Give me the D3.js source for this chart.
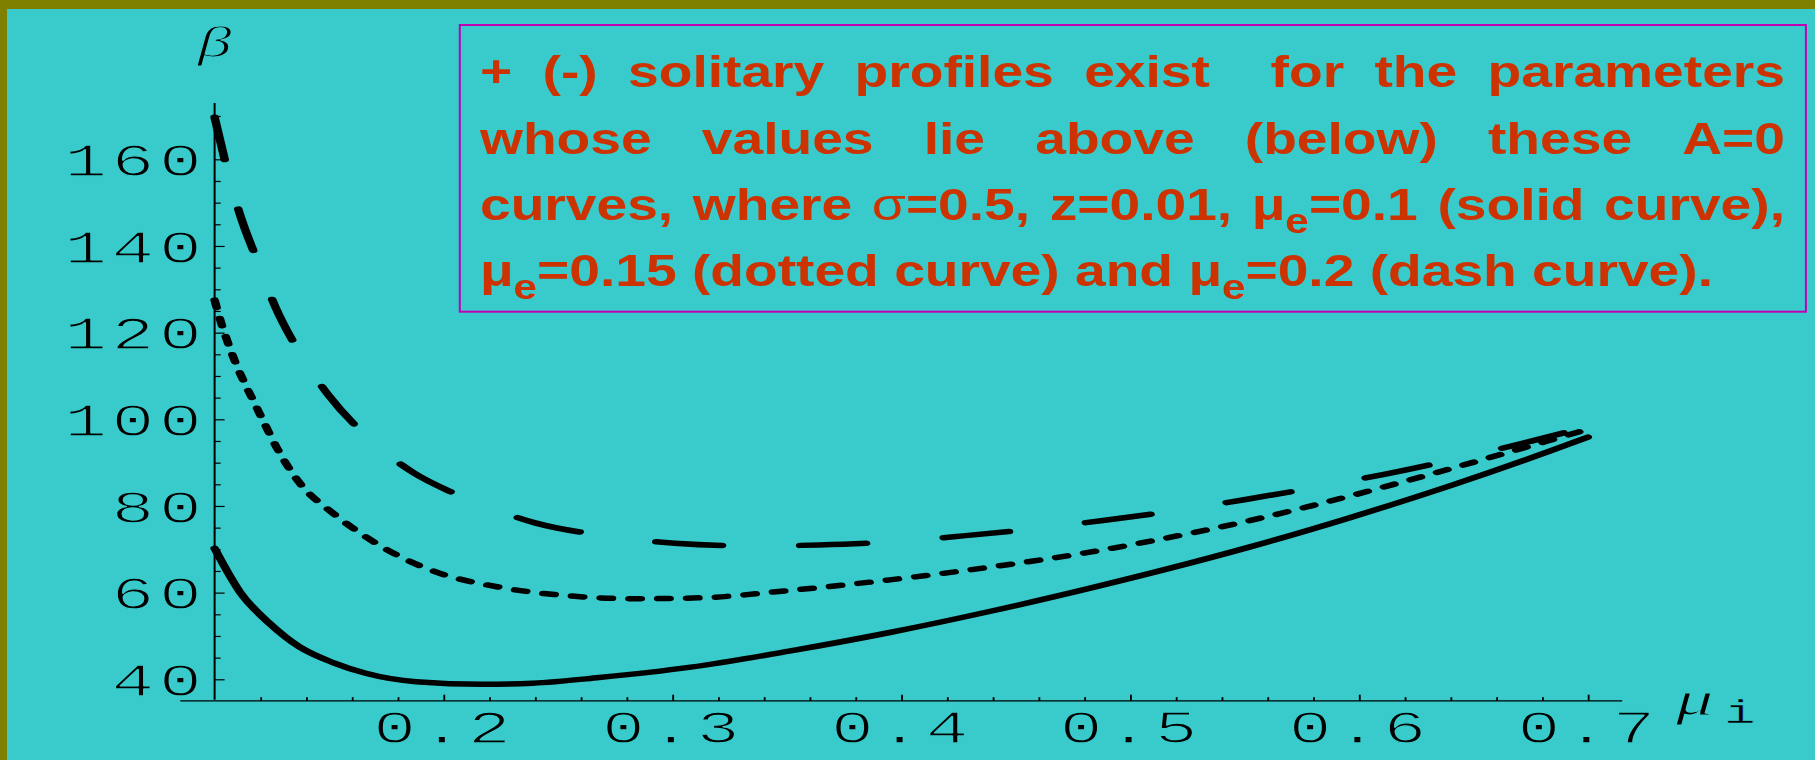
<!DOCTYPE html>
<html>
<head>
<meta charset="utf-8">
<script src="https://cdn.jsdelivr.net/npm/d3@7"></script>
<style>
  html, body { margin: 0; padding: 0; background: #39cbcb; }
  svg { display: block; }
</style>
</head>
<body>
<svg id="chart" width="1815" height="760"></svg>
<script>
// ---- data: A=0 curves, beta against mu_i ----
// mu_e = 0.1 (solid)
const muSolid   = [0.100, 0.111, 0.124, 0.137, 0.152, 0.166, 0.188, 0.217, 0.239, 0.268, 0.308, 0.351, 0.395, 0.439, 0.483, 0.526, 0.552, 0.596, 0.640, 0.683, 0.700];
const betaSolid = [70.2, 60.2, 52.9, 47.5, 43.8, 41.4, 39.45, 38.85, 39.1, 40.4, 42.8, 46.5, 50.8, 55.7, 61.1, 66.8, 70.5, 77.3, 84.7, 92.6, 95.9];
// mu_e = 0.15 (dotted)
const muDotted   = [0.100, 0.103, 0.106, 0.109, 0.1125, 0.117, 0.122, 0.127, 0.137, 0.152, 0.166, 0.181, 0.196, 0.225, 0.254, 0.283, 0.312, 0.351, 0.395, 0.439, 0.483, 0.509, 0.552, 0.596, 0.640, 0.683, 0.700];
const betaDotted = [127.5, 122.0, 117.4, 113.2, 109.0, 104.2, 98.8, 93.6, 85.4, 78.2, 72.9, 68.3, 64.9, 61.2, 59.3, 58.6, 58.8, 60.5, 62.95, 65.9, 69.4, 71.9, 76.6, 82.3, 88.6, 95.1, 97.7];
// mu_e = 0.2 (dash)
const muDashed   = [0.100, 0.105, 0.1108, 0.1184, 0.1264, 0.1369, 0.1497, 0.1664, 0.1868, 0.2014, 0.2128, 0.240, 0.271, 0.301, 0.334, 0.364, 0.397, 0.427, 0.459, 0.489, 0.521, 0.5505, 0.582, 0.611, 0.642, 0.671, 0.700];
const betaDashed = [169.7, 158.7, 147.7, 136.9, 126.1, 115.6, 105.6, 96.1, 87.7, 83.7, 81.2, 76.1, 73.1, 71.4, 70.8, 71.0, 71.75, 73.1, 74.8, 76.7, 79.0, 81.5, 84.4, 87.3, 90.8, 94.4, 98.3];

// ---- ticks ----
const xTickValues = [0.2, 0.3, 0.4, 0.5, 0.6, 0.7];
const xTickLabels = ["0.2", "0.3", "0.4", "0.5", "0.6", "0.7"];
const yTickValues = [40, 60, 80, 100, 120, 140, 160];
const yTickLabels = ["40", "60", "80", "100", "120", "140", "160"];

// ---- note text ----
const noteLines = [
  "+ (-) solitary profiles exist  for the parameters",
  "whose values lie above (below) these A=0",
  "curves, where σ=0.5, z=0.01, μ_e=0.1 (solid curve),",
  "μ_e=0.15 (dotted curve) and μ_e=0.2 (dash curve)."
];

// ---- layout ----
const W = 1815, H = 760;
const BG = "#39cbcb";
const S = 1.55;                 // horizontal stretch of the plot panel
const MONO = "'Liberation Mono', 'DejaVu Sans Mono', monospace";
const SERIF = "'Liberation Serif', 'DejaVu Serif', serif";
const SANS = "'Liberation Sans', Arial, sans-serif";

const svg = d3.select("#chart");
svg.append("rect").attr("width", W).attr("height", H).attr("fill", BG);
svg.append("rect").attr("x", 0).attr("y", 0).attr("width", W).attr("height", 9).attr("fill", "#808000");
svg.append("rect").attr("x", 0).attr("y", 0).attr("width", 7).attr("height", H).attr("fill", "#808000");

const plot = svg.append("g").attr("transform", `scale(${S},1)`);

const x = d3.scaleLinear().domain([0.2, 0.7]).range([443.5 / S, 1587.9 / S]);
const y = d3.scaleLinear().domain([40, 160]).range([679.3, 159.3]);
const x0 = x(0.1), y0 = y(35);

// thin lettering: glyph edges trimmed with a background-coloured stroke
function thin(sel, trim) {
  sel.attr("fill", "#000").attr("stroke", BG)
    .attr("stroke-width", trim).attr("stroke-linejoin", "round");
}
function monoText(sel, size) {
  sel.attr("font-family", MONO).attr("font-size", size)
    .attr("letter-spacing", 3).call(thin, 1.4);
}
function tickLines(g) {
  g.select(".domain").remove();
  g.selectAll("line").attr("stroke", "#000").attr("stroke-width", 1.2);
}

// axis lines
plot.append("line")
  .attr("x1", x(0.085)).attr("x2", x(0.715)).attr("y1", y0).attr("y2", y0)
  .attr("stroke", "#000").attr("stroke-width", 1.3);
plot.append("line")
  .attr("x1", x0).attr("x2", x0).attr("y1", y(35.3)).attr("y2", y(173))
  .attr("stroke", "#000").attr("stroke-width", 1.3);

// x axis ticks
const minorX = d3.range(12, 71, 2).filter(v => v % 10 !== 0).map(v => v / 100);
plot.append("g").attr("transform", `translate(0,${y0})`)
  .call(d3.axisBottom(x).tickValues(minorX).tickSizeInner(-3.8).tickSizeOuter(0).tickFormat(""))
  .call(tickLines)
  .call(g => g.selectAll("text").remove());

plot.append("g").attr("transform", `translate(0,${y0})`)
  .call(d3.axisBottom(x).tickValues(xTickValues).tickSizeInner(-6.3).tickSizeOuter(0)
    .tickFormat((d, i) => xTickLabels[i]))
  .call(tickLines)
  .call(g => g.selectAll("text").attr("y", 743 - y0).attr("dy", 0).call(monoText, 46));

// y axis ticks
const minorY = d3.range(45, 171, 5).filter(v => v % 20 !== 0);
plot.append("g").attr("transform", `translate(${x0},0)`)
  .call(d3.axisLeft(y).tickValues(minorY).tickSizeInner(-3.9).tickSizeOuter(0).tickFormat(""))
  .call(tickLines)
  .call(g => g.selectAll("text").remove());

plot.append("g").attr("transform", `translate(${x0},0)`)
  .call(d3.axisLeft(y).tickValues(yTickValues).tickSizeInner(-6.45).tickSizeOuter(0).tickPadding(5.3)
    .tickFormat((d, i) => yTickLabels[i]))
  .call(tickLines)
  .call(g => g.selectAll("text").attr("dy", "0.35em").call(monoText, 46));

// axis titles
plot.append("text")
  .attr("x", x0).attr("y", 57)
  .attr("text-anchor", "middle")
  .attr("font-family", SERIF).attr("font-style", "italic").attr("font-size", 44)
  .call(thin, 1.2).text("β");

plot.append("text")
  .attr("x", 1676 / S).attr("y", 715)
  .attr("font-family", SERIF).attr("font-style", "italic").attr("font-size", 48)
  .call(thin, 1.0).text("μ");
plot.append("text")
  .attr("x", 1724 / S).attr("y", 722.7)
  .attr("font-family", MONO).attr("font-size", 34)
  .call(thin, 0.5).text("i");

// curves
const series = [
  { mu: muSolid,  beta: betaSolid,  dash: null },
  { mu: muDotted, beta: betaDotted, dash: "7.4 11.2" },
  { mu: muDashed, beta: betaDashed, dash: "42.6 50.4" }
];
const line = d3.line()
  .x(d => x(d[0]))
  .y(d => y(d[1]))
  .curve(d3.curveMonotoneX);

plot.selectAll("path.curve")
  .data(series)
  .join("path")
  .attr("class", "curve")
  .attr("d", s => line(s.mu.map((m, i) => [m, s.beta[i]])))
  .attr("fill", "none")
  .attr("stroke", "#000")
  .attr("stroke-width", 5.5)
  .attr("stroke-linecap", "round")
  .attr("stroke-linejoin", "round")
  .attr("stroke-dasharray", s => s.dash);

// ---- note box ----
svg.append("rect")
  .attr("x", 459.8).attr("y", 25).attr("width", 1805.9 - 459.8).attr("height", 311.7 - 25)
  .attr("fill", "none").attr("stroke", "#c000b4").attr("stroke-width", 2);

const NOTE_FS = 45;
const SUB_SHIFT = 13;
const noteColor = "#cc3300";
const noteLeft = 480, noteRight = 1785, lastLineRight = 1713;
const baselines = [87.5, 154, 220, 286];

const note = svg.append("g");

// split a word into runs: "_x" is a subscript x, σ is set in the regular weight
function parseRuns(word) {
  const runs = [];
  let buf = "";
  for (let i = 0; i < word.length; i++) {
    const c = word[i];
    if (c === "_") {
      if (buf) runs.push({ t: buf }); buf = "";
      runs.push({ t: word[i + 1], sub: true }); i++;
    } else if (c === "σ") {
      if (buf) runs.push({ t: buf }); buf = "";
      runs.push({ t: c, thin: true });
    } else buf += c;
  }
  if (buf) runs.push({ t: buf });
  return runs;
}

function noteTextEl(g) {
  return g.append("text")
    .attr("font-family", SANS).attr("font-weight", "bold")
    .attr("font-size", NOTE_FS).attr("fill", noteColor);
}

// append the runs of one word to a text element; returns the new baseline shift
function appendRuns(t, runs, shift, xPos) {
  runs.forEach((r, k) => {
    const ts = t.append("tspan").text(r.t);
    if (k === 0 && xPos != null) ts.attr("x", xPos);
    if (r.sub) {
      ts.attr("font-size", NOTE_FS * 0.76).attr("dy", SUB_SHIFT - shift); shift = SUB_SHIFT;
    } else {
      if (shift) { ts.attr("dy", -shift); shift = 0; }
      if (r.thin) ts.attr("font-weight", "normal");
    }
  });
  return shift;
}

function wordWidth(word) {
  const t = noteTextEl(note);
  appendRuns(t, parseRuns(word), 0, null);
  const w = t.node().getComputedTextLength();
  t.remove();
  return w;
}

// width of one space in the note font
const probeA = noteTextEl(note).text("nn");
const probeB = noteTextEl(note).attr("xml:space", "preserve").style("white-space", "pre").text("n n");
const spaceW = probeB.node().getComputedTextLength() - probeA.node().getComputedTextLength();
probeA.remove(); probeB.remove();

const lineWords = noteLines.map(str => {
  const words = [];
  let gapBefore = 0;
  str.split(" ").forEach(tok => {
    if (tok === "") { gapBefore++; return; }
    words.push({ s: tok, w: wordWidth(tok), gap: words.length ? gapBefore + 1 : 0 });
    gapBefore = 0;
  });
  return words;
});

// horizontal scale of the note text, set by the last (unjustified) line
const lastWords = lineWords[lineWords.length - 1];
const lastNatural = d3.sum(lastWords, w => w.w + w.gap * spaceW);
const noteScale = (lastLineRight - noteLeft) / lastNatural;
const innerWidth = (noteRight - noteLeft) / noteScale;

lineWords.forEach((words, li) => {
  const isLast = li === lineWords.length - 1;
  const natural = d3.sum(words, w => w.w + w.gap * spaceW);
  const gaps = d3.sum(words, w => w.gap);
  const extra = isLast || gaps === 0 ? 0 : (innerWidth - natural) / gaps;
  const g = note.append("g").attr("transform", `translate(${noteLeft},0) scale(${noteScale},1)`);
  const t = noteTextEl(g).attr("x", 0).attr("y", baselines[li]);
  let cx = 0, shift = 0;
  words.forEach(w => {
    cx += w.gap * (spaceW + extra);
    shift = appendRuns(t, parseRuns(w.s), shift, cx);
    cx += w.w;
  });
});
</script>
</body>
</html>
